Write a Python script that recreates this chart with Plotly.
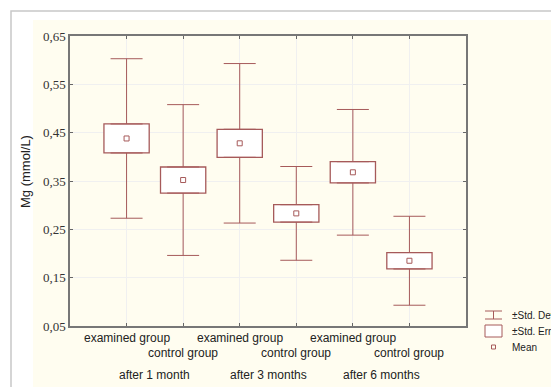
import plotly.graph_objects as go

# ---- data ----
groups = ["examined group", "control group", "examined group", "control group", "examined group", "control group"]
periods = ["after 1 month", "after 3 months", "after 6 months"]
means = [0.438, 0.352, 0.428, 0.283, 0.368, 0.185]
std_err = [0.030, 0.027, 0.029, 0.018, 0.022, 0.017]
std_dev = [0.165, 0.156, 0.165, 0.097, 0.130, 0.092]
y_ticks = [0.05, 0.15, 0.25, 0.35, 0.45, 0.55, 0.65]
y_tick_text = ["0,05", "0,15", "0,25", "0,35", "0,45", "0,55", "0,65"]

OFF = 8  # page body margin
W, H = 559 - OFF, 387 - OFF
L, T = 70 - OFF, 36 - OFF
R = 559 - 466
B = 387 - 326
PW, PH = W - L - R, H - T - B
col = "#a65a5a"
xs = list(range(len(groups)))

def px(xp):
    return (xp - OFF - L) / PW

def py(yp):
    return (326 - yp) / PH

fig = go.Figure()

# upper whiskers (from box top to mean+sd)
fig.add_trace(go.Scatter(
    x=xs, y=[m + s for m, s in zip(means, std_err)], mode="markers",
    marker=dict(size=1, color="rgba(0,0,0,0)"),
    error_y=dict(type="data", symmetric=False,
                 array=[d - s for d, s in zip(std_dev, std_err)],
                 arrayminus=[0] * len(xs), color=col, thickness=1, width=16),
    showlegend=False, hoverinfo="skip"))
# lower whiskers
fig.add_trace(go.Scatter(
    x=xs, y=[m - s for m, s in zip(means, std_err)], mode="markers",
    marker=dict(size=1, color="rgba(0,0,0,0)"),
    error_y=dict(type="data", symmetric=False,
                 array=[0] * len(xs),
                 arrayminus=[d - s for d, s in zip(std_dev, std_err)],
                 color=col, thickness=1, width=16),
    showlegend=False, hoverinfo="skip"))
# boxes (mean +- SE)
fig.add_trace(go.Bar(
    x=xs, y=[2 * s for s in std_err], base=[m - s for m, s in zip(means, std_err)],
    width=0.8, marker=dict(color="white", line=dict(color=col, width=1.3)),
    showlegend=False))
# means
fig.add_trace(go.Scatter(
    x=xs, y=means, mode="markers",
    marker=dict(symbol="square-open", size=5, color=col, line=dict(width=1)),
    showlegend=False))

FONT = "Liberation Sans, Arial"
annotations = []
for i, g in enumerate(groups):
    annotations.append(dict(
        x=i, xref="x", y=py(338 if i % 2 == 0 else 353), yref="paper",
        text=g, showarrow=False, font=dict(family=FONT, size=12, color="#222"),
        xanchor="center", yanchor="middle"))
for j, p in enumerate(periods):
    annotations.append(dict(
        x=2 * j + 0.5, xref="x", y=py(375), yref="paper",
        text=p, showarrow=False, font=dict(family=FONT, size=12, color="#222"),
        xanchor="center", yanchor="middle"))
annotations.append(dict(
    x=px(25), xref="paper", y=py(172), yref="paper", text="Mg (mmol/L)", textangle=-90,
    showarrow=False, font=dict(family=FONT, size=13, color="#222"),
    xanchor="center", yanchor="middle"))
# legend texts
for txt, yy in [("±Std. Dev.", 315), ("±Std. Err.", 331), ("Mean", 347)]:
    annotations.append(dict(
        x=px(510), xref="paper", y=py(yy), yref="paper", text=txt, showarrow=False,
        font=dict(family=FONT, size=10, color="#222"),
        xanchor="left", yanchor="middle"))

shapes = [
    # cream background panel
    dict(type="rect", xref="paper", yref="paper", x0=px(33), x1=px(570), y0=py(400), y1=py(20),
         fillcolor="#fffdf0", line=dict(width=0), layer="below"),
    # outer frame
    dict(type="rect", xref="paper", yref="paper", x0=px(11), x1=px(570), y0=py(400), y1=py(11),
         fillcolor="rgba(0,0,0,0)", line=dict(color="#c8c8c8", width=1.5), layer="below"),
    # legend: SD glyph
    dict(type="line", xref="paper", yref="paper", x0=px(485), x1=px(502), y0=py(311), y1=py(311),
         line=dict(color=col, width=1)),
    dict(type="line", xref="paper", yref="paper", x0=px(485), x1=px(502), y0=py(319), y1=py(319),
         line=dict(color=col, width=1)),
    dict(type="line", xref="paper", yref="paper", x0=px(493.5), x1=px(493.5), y0=py(311), y1=py(319),
         line=dict(color=col, width=1)),
    # legend: SE glyph
    dict(type="rect", xref="paper", yref="paper", x0=px(485), x1=px(502), y0=py(337), y1=py(325),
         fillcolor="white", line=dict(color=col, width=1)),
    # legend: mean glyph
    dict(type="rect", xref="paper", yref="paper", x0=px(491.5), x1=px(495.5), y0=py(349), y1=py(345),
         fillcolor="rgba(0,0,0,0)", line=dict(color=col, width=1)),
]

fig.update_layout(
    width=W, height=H, margin=dict(l=L, r=R, t=T, b=B),
    paper_bgcolor="white", plot_bgcolor="white",
    showlegend=False, annotations=annotations, shapes=shapes,
    xaxis=dict(range=[-1, 6], tickvals=xs, showticklabels=False, ticks="inside", ticklen=3,
               tickcolor="#666", showgrid=True, gridcolor="#f0f0f0", zeroline=False,
               showline=True, linecolor="#777", linewidth=1.5, mirror="ticks"),
    yaxis=dict(range=[0.05, 0.65], tickvals=y_ticks, ticktext=y_tick_text, ticks="inside",
               ticklen=3, tickcolor="#666", showgrid=True, gridcolor="#f0f0f0", zeroline=False,
               showline=True, linecolor="#777", linewidth=1.5, mirror="ticks",
               tickfont=dict(family="Liberation Serif, Times New Roman", size=13, color="#333")),
)

fig.write_html("out.html")
